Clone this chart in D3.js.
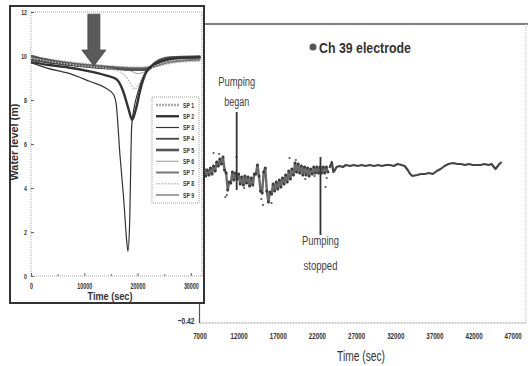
<!DOCTYPE html>
<html><head><meta charset="utf-8">
<script src="https://cdn.jsdelivr.net/npm/d3@7"></script>
<style>body{margin:0;background:#fff}svg{display:block}</style>
</head><body><svg id="c" width="528" height="366"></svg>
<script>
// ---------- main chart (Ch 39 electrode) ----------
const mainXTicks = [7000,12000,17000,22000,27000,32000,37000,42000,47000];
const mainYTicks = [-0.42];
const noisyTime = [7000,7200,7400,7600,7800,8000,8200,8400,8600,8800,9000,9200,9400,9600,9800,10000,10200,10400,10600,10800,11000,11200,11400,11600,11800,12000,12200,12400,12600,12800,13000,13200,13400,13600,13800,14000,14200,14400,14600,14800,15000,15200,15400,15600,15800,16000,16200,16400,16600,16800,17000,17200,17400,17600,17800,18000,18200,18400,18600,18800,19000,19200,19400,19600,19800,20000,20200,20400,20600,20800,21000,21200,21400,21600,21800,22000,22200,22400,22600,22800,23000,23200,23400];
const noisyLevel = [1.05,1.13,1.07,1.12,1.05,1.11,1.06,1.13,1.07,1.15,1.10,1.19,1.15,1.22,1.17,1.24,1.11,1.08,0.91,0.99,0.98,1.09,1.01,1.08,1.02,1.07,0.97,1.04,0.96,1.05,0.98,1.04,0.95,1.03,0.96,1.07,1.07,1.16,1.05,0.90,0.88,1.09,1.13,0.90,0.79,0.89,0.87,0.97,0.90,0.99,0.92,1.01,0.94,1.03,0.97,1.06,0.99,1.10,1.02,1.12,1.06,1.18,1.09,1.17,1.08,1.15,1.06,1.14,1.06,1.13,1.05,1.12,1.07,1.14,1.08,1.14,1.08,1.14,1.08,1.14,1.08,1.14,1.09];
const outlierTime = [8800,10300,14900,15900,18500,19300,23100,23250,11700,16200,9500,12700,20500,21700,10500,15100];
const outlierLevel = [1.28,0.84,0.82,0.80,1.23,1.21,0.94,1.03,1.24,0.78,1.27,0.93,1.02,1.05,0.86,0.76];
const steadyTime = [23600,23900,24100,24300,24500,24900,25300,25700,26200,26700,27200,27700,28200,28700,29300,29800,30300,30800,31300,31800,32300,32800,33200,33600,33900,34200,34800,35300,35800,36300,36800,37300,37800,38300,38800,39400,39900,40400,40900,41400,41900,42400,42900,43400,43900,44300,44500,44800,45000,45300,45600];
const steadyLevel = [1.13,1.19,1.09,1.11,1.14,1.15,1.14,1.16,1.15,1.16,1.15,1.16,1.15,1.16,1.15,1.16,1.15,1.16,1.16,1.15,1.17,1.16,1.15,1.11,1.07,1.05,1.06,1.07,1.07,1.08,1.07,1.10,1.12,1.15,1.17,1.18,1.17,1.17,1.16,1.17,1.16,1.16,1.16,1.17,1.16,1.17,1.15,1.12,1.14,1.17,1.19];
const eventLabels = [["Pumping","began"],["Pumping","stopped"]];
const eventTime = [11750, 22450];
const eventLineTop = [1.69, 1.24];
const eventLineBottom = [0.91, 0.46];
const mainTitle = "Ch 39 electrode";
const mainXTitle = "Time (sec)";

// ---------- inset (SP water levels) ----------
const insetXTicks = [0,10000,20000,30000];
const insetXMinor = [5000,15000,25000];
const insetYTicks = [0,2,4,6,8,10,12];
const spNames = ["SP 1","SP 2","SP 3","SP 4","SP 5","SP 6","SP 7","SP 8","SP 9"];
const sp1Time = [0,4000,8000,12000,16000,20000,22000,24000,27000,31800];
const sp1Level = [9.93,9.78,9.66,9.56,9.48,9.44,9.47,9.6,9.75,9.82];
const sp2Time = [0,3000,7000,11000,14000,16000,17300,18300,19000,19600,20500,21500,22500,24500,27000,31800];
const sp2Level = [9.72,9.6,9.48,9.3,9.12,8.95,8.4,7.6,7.1,7.5,8.45,9.2,9.52,9.78,9.9,9.94];
const sp3Time = [0,3000,7000,11000,14000,15500,16000,16700,17400,18000,18200,18500,18900,19400,20000,20800,21700,22600,24000,26000,29000,31800];
const sp3Level = [9.7,9.45,9.22,8.85,8.55,8.25,7.8,5.5,3.5,1.5,1.12,2.3,6.8,7.7,8.3,8.9,9.35,9.55,9.7,9.85,9.92,9.95];
const sp4Time = [0,5000,10000,15000,19000,21500,23000,25000,27000,31800];
const sp4Level = [9.85,9.65,9.52,9.42,9.36,9.36,9.55,9.82,9.93,9.96];
const sp5Time = [0,3000,8000,12000,16000,19000,21800,23500,26000,31800];
const sp5Level = [10.0,9.82,9.62,9.52,9.44,9.38,9.38,9.72,9.92,9.97];
const sp6Time = [0,5000,10000,15000,18500,20000,21500,23000,26000,31800];
const sp6Level = [9.88,9.7,9.58,9.48,9.35,9.2,9.3,9.55,9.8,9.9];
const sp7Time = [0,4000,9000,14000,18000,21000,23000,25500,28500,31800];
const sp7Level = [9.9,9.74,9.62,9.52,9.46,9.44,9.52,9.7,9.8,9.84];
const sp8Time = [0,5000,10000,14000,16500,17500,18300,19000,19500,20200,21000,22000,25000,28000,31800];
const sp8Level = [9.9,9.7,9.55,9.45,9.3,9.15,8.9,8.6,8.5,8.7,9.05,9.35,9.7,9.85,9.92];
const sp9Time = [0,6000,12000,18000,21000,23500,27000,31800];
const sp9Level = [9.8,9.62,9.5,9.42,9.42,9.62,9.86,9.92];
const arrowTime = 11800, arrowTipLevel = 9.55, arrowHeadLevel = 10.27, arrowTopLevel = 11.9;
const insetXTitle = "Time (sec)", insetYTitle = "Water level (m)";

const FONT = "'Liberation Sans',Arial,sans-serif";
const svg = d3.select("#c");
svg.append("rect").attr("width",528).attr("height",366).attr("fill","#fff");
// condense tick labels horizontally (the original uses a narrow face)
function squeeze(sel, k){ sel.attr("transform",`scale(${k},1)`); }
function fitW(sel, w){ sel.attr("textLength",w).attr("lengthAdjust","spacingAndGlyphs"); }

// ===== main chart =====
const x = d3.scaleLinear().domain([7000,48700]).range([199.5,526]);
const y = d3.scaleLinear().domain([-0.42,2.57]).range([323,24]);
const g = svg.append("g");
g.append("line").attr("x1",x.range()[0]).attr("x2",528).attr("y1",y(2.57)).attr("y2",y(2.57)).attr("stroke","#555").attr("stroke-width",1.6);
g.append("line").attr("x1",x.range()[1]).attr("x2",x.range()[1]).attr("y1",y(2.57)).attr("y2",y(-0.42)).attr("stroke","#bbb").attr("stroke-width",1).attr("stroke-dasharray","1,1");
g.append("line").attr("x1",x.range()[0]).attr("x2",x.range()[1]).attr("y1",y(-0.42)).attr("y2",y(-0.42)).attr("stroke","#999").attr("stroke-width",1).attr("stroke-dasharray","2,1");
g.append("line").attr("x1",x.range()[0]).attr("x2",x.range()[0]).attr("y1",y(2.57)).attr("y2",y(-0.42)).attr("stroke","#555").attr("stroke-width",1.2);
const xAxis = d3.axisBottom(x).tickValues(mainXTicks).tickSize(0).tickPadding(9).tickFormat(d3.format("d"));
const xa = g.append("g").attr("transform",`translate(0,${y(-0.42)})`).call(xAxis);
xa.select(".domain").remove();
xa.selectAll("text").attr("font-family",FONT).attr("font-weight","bold").attr("font-size",9.5).attr("fill","#333").call(squeeze,0.65);
const yAxis = d3.axisLeft(y).tickValues(mainYTicks).tickSize(0).tickPadding(0).tickFormat(d3.format(".2f"));
const ya = g.append("g").attr("transform",`translate(${x.range()[0]-5},0)`).call(yAxis);
ya.select(".domain").remove();
ya.selectAll("text").attr("x",0).attr("font-family",FONT).attr("font-weight","bold").attr("font-size",9.5).attr("fill","#333").attr("dy","0.1em").call(squeeze,0.7);
g.append("text").attr("x",361).attr("y",361).attr("text-anchor","middle").attr("font-family",FONT).attr("font-size",14).attr("fill","#333").text(mainXTitle).call(fitW,48);
g.append("circle").attr("cx",313).attr("cy",47).attr("r",3.5).attr("fill","#555");
g.append("text").attr("x",319).attr("y",53).attr("font-family",FONT).attr("font-weight","bold").attr("font-size",15).attr("fill","#333").text(mainTitle).call(fitW,92);
// data
const noisy = noisyTime.map((t,i)=>[t,noisyLevel[i]]);
const steady = steadyTime.map((t,i)=>[t,steadyLevel[i]]);
const line = d3.line().x(d=>x(d[0])).y(d=>y(d[1]));
g.append("path").attr("d",line(noisy)).attr("fill","none").attr("stroke","#6a6a6a").attr("stroke-width",2.4).attr("stroke-linejoin","round");
g.selectAll(".nd").data(noisy).join("circle").attr("cx",d=>x(d[0])).attr("cy",d=>y(d[1])).attr("r",1.5).attr("fill","#3c3c3c");
g.selectAll(".od").data(outlierTime.map((t,i)=>[t,outlierLevel[i]])).join("circle").attr("cx",d=>x(d[0])).attr("cy",d=>y(d[1])).attr("r",1.1).attr("fill","#555");
g.append("path").attr("d",line(steady)).attr("fill","none").attr("stroke","#444").attr("stroke-width",2.2).attr("stroke-linejoin","round");
eventTime.forEach((t,i)=>{
  g.append("line").attr("x1",x(t)).attr("x2",x(t)).attr("y1",y(eventLineTop[i])).attr("y2",y(eventLineBottom[i])).attr("stroke","#333").attr("stroke-width",1.8);
});
const lbl = (tx,ty,s,w)=>g.append("text").attr("x",tx).attr("y",ty).attr("text-anchor","middle").attr("font-family",FONT).attr("font-size",12).attr("fill","#444").text(s).call(fitW,w);
lbl(x(eventTime[0]),y(eventLineTop[0])-26,eventLabels[0][0],37);
lbl(x(eventTime[0]),y(eventLineTop[0])-6,eventLabels[0][1],25);
lbl(x(eventTime[1]),y(eventLineBottom[1])+10,eventLabels[1][0],37);
lbl(x(eventTime[1]),y(eventLineBottom[1])+35,eventLabels[1][1],34);

// ===== inset =====
const ig = svg.append("g");
ig.append("rect").attr("x",10).attr("y",6).attr("width",194).attr("height",297).attr("fill","#fff").attr("stroke","#333").attr("stroke-width",2);
const ix = d3.scaleLinear().domain([0,32100]).range([31,202]);
const iy = d3.scaleLinear().domain([0,12]).range([276,12]);
ig.append("rect").attr("x",ix(0)).attr("y",iy(12)).attr("width",ix(32100)-ix(0)).attr("height",iy(0)-iy(12)).attr("fill","none").attr("stroke","#999").attr("stroke-width",0.9).attr("stroke-dasharray","1,1");
const ixa = ig.append("g").attr("transform",`translate(0,${iy(0)})`).call(d3.axisTop(ix).tickValues(insetXTicks).tickSize(3).tickFormat(d3.format("d")));
ixa.select(".domain").remove();
ixa.selectAll("line").attr("stroke","#666");
ixa.selectAll("text").attr("y",13).attr("dy",0).attr("font-family",FONT).attr("font-weight","bold").attr("font-size",8.5).attr("fill","#333").call(squeeze,0.63);
const ixm = ig.append("g").attr("transform",`translate(0,${iy(0)})`).call(d3.axisTop(ix).tickValues(insetXMinor).tickSize(2).tickFormat(""));
ixm.select(".domain").remove(); ixm.selectAll("line").attr("stroke","#777");
const iya = ig.append("g").attr("transform",`translate(${ix(0)-4},0)`).call(d3.axisLeft(iy).tickValues(insetYTicks).tickSize(0).tickPadding(0).tickFormat(d3.format("d")));
iya.select(".domain").remove();
iya.selectAll("text").attr("x",0).attr("font-family",FONT).attr("font-weight","bold").attr("font-size",8).attr("fill","#333").call(squeeze,0.65);
const iyt = ig.append("g").attr("transform",`translate(${ix(0)},0)`).call(d3.axisRight(iy).tickValues(insetYTicks).tickSize(3).tickFormat(""));
iyt.select(".domain").remove(); iyt.selectAll("line").attr("stroke","#666");
ig.append("text").attr("x",110).attr("y",300).attr("text-anchor","middle").attr("font-family",FONT).attr("font-weight","bold").attr("font-size",10).attr("fill","#333").text(insetXTitle).call(fitW,45);
ig.append("text").attr("transform","translate(18,142) rotate(-90)").attr("text-anchor","middle").attr("font-family",FONT).attr("font-weight","bold").attr("font-size",10).attr("fill","#333").text(insetYTitle).call(fitW,77);

const spTimes = [sp1Time,sp2Time,sp3Time,sp4Time,sp5Time,sp6Time,sp7Time,sp8Time,sp9Time];
const spLevels = [sp1Level,sp2Level,sp3Level,sp4Level,sp5Level,sp6Level,sp7Level,sp8Level,sp9Level];
const spStyle = [
  {c:"#aaa",w:3.5,d:"2,1"},{c:"#333",w:2.4,d:null},{c:"#333",w:1.2,d:null},
  {c:"#444",w:1.8,d:null},{c:"#555",w:2.8,d:null},{c:"#999",w:1,d:null},
  {c:"#777",w:2,d:null},{c:"#bbb",w:1.5,d:"1.5,1.5"},{c:"#666",w:1.2,d:null}];
const iline = d3.line().x(d=>ix(d[0])).y(d=>iy(d[1])).curve(d3.curveMonotoneX);
const drawOrder = [0,6,8,5,3,4,7,1,2];
drawOrder.forEach(k=>{
  const data = spTimes[k].map((t,i)=>[t,spLevels[k][i]]);
  ig.append("path").attr("d",iline(data)).attr("fill","none").attr("stroke",spStyle[k].c).attr("stroke-width",spStyle[k].w).attr("stroke-dasharray",spStyle[k].d).attr("stroke-linejoin","round");
});
const ax = ix(arrowTime), tipY = iy(arrowTipLevel), headY = iy(arrowHeadLevel), topY = iy(arrowTopLevel);
ig.append("path").attr("d",`M${ax-6},${topY}L${ax+6},${topY}L${ax+6},${headY}L${ax+12},${headY}L${ax},${tipY}L${ax-12},${headY}L${ax-6},${headY}Z`).attr("fill","#5a5a5a").attr("stroke","#444").attr("stroke-width",0.8);
const lg = ig.append("g");
lg.append("rect").attr("x",152).attr("y",97).attr("width",47).attr("height",106).attr("fill","#fff").attr("stroke","#888").attr("stroke-width",0.8).attr("stroke-dasharray","1,1");
const ly = d3.scalePoint().domain(spNames).range([105,195]);
spNames.forEach((n,k)=>{
  lg.append("line").attr("x1",156).attr("x2",179).attr("y1",ly(n)).attr("y2",ly(n)).attr("stroke",spStyle[k].c).attr("stroke-width",Math.min(spStyle[k].w,2.6)).attr("stroke-dasharray",spStyle[k].d);
  lg.append("text").attr("x",183).attr("y",ly(n)+2.5).attr("font-family",FONT).attr("font-weight","bold").attr("font-size",7).attr("fill","#333").text(n).call(fitW,11);
});
</script></body></html>
